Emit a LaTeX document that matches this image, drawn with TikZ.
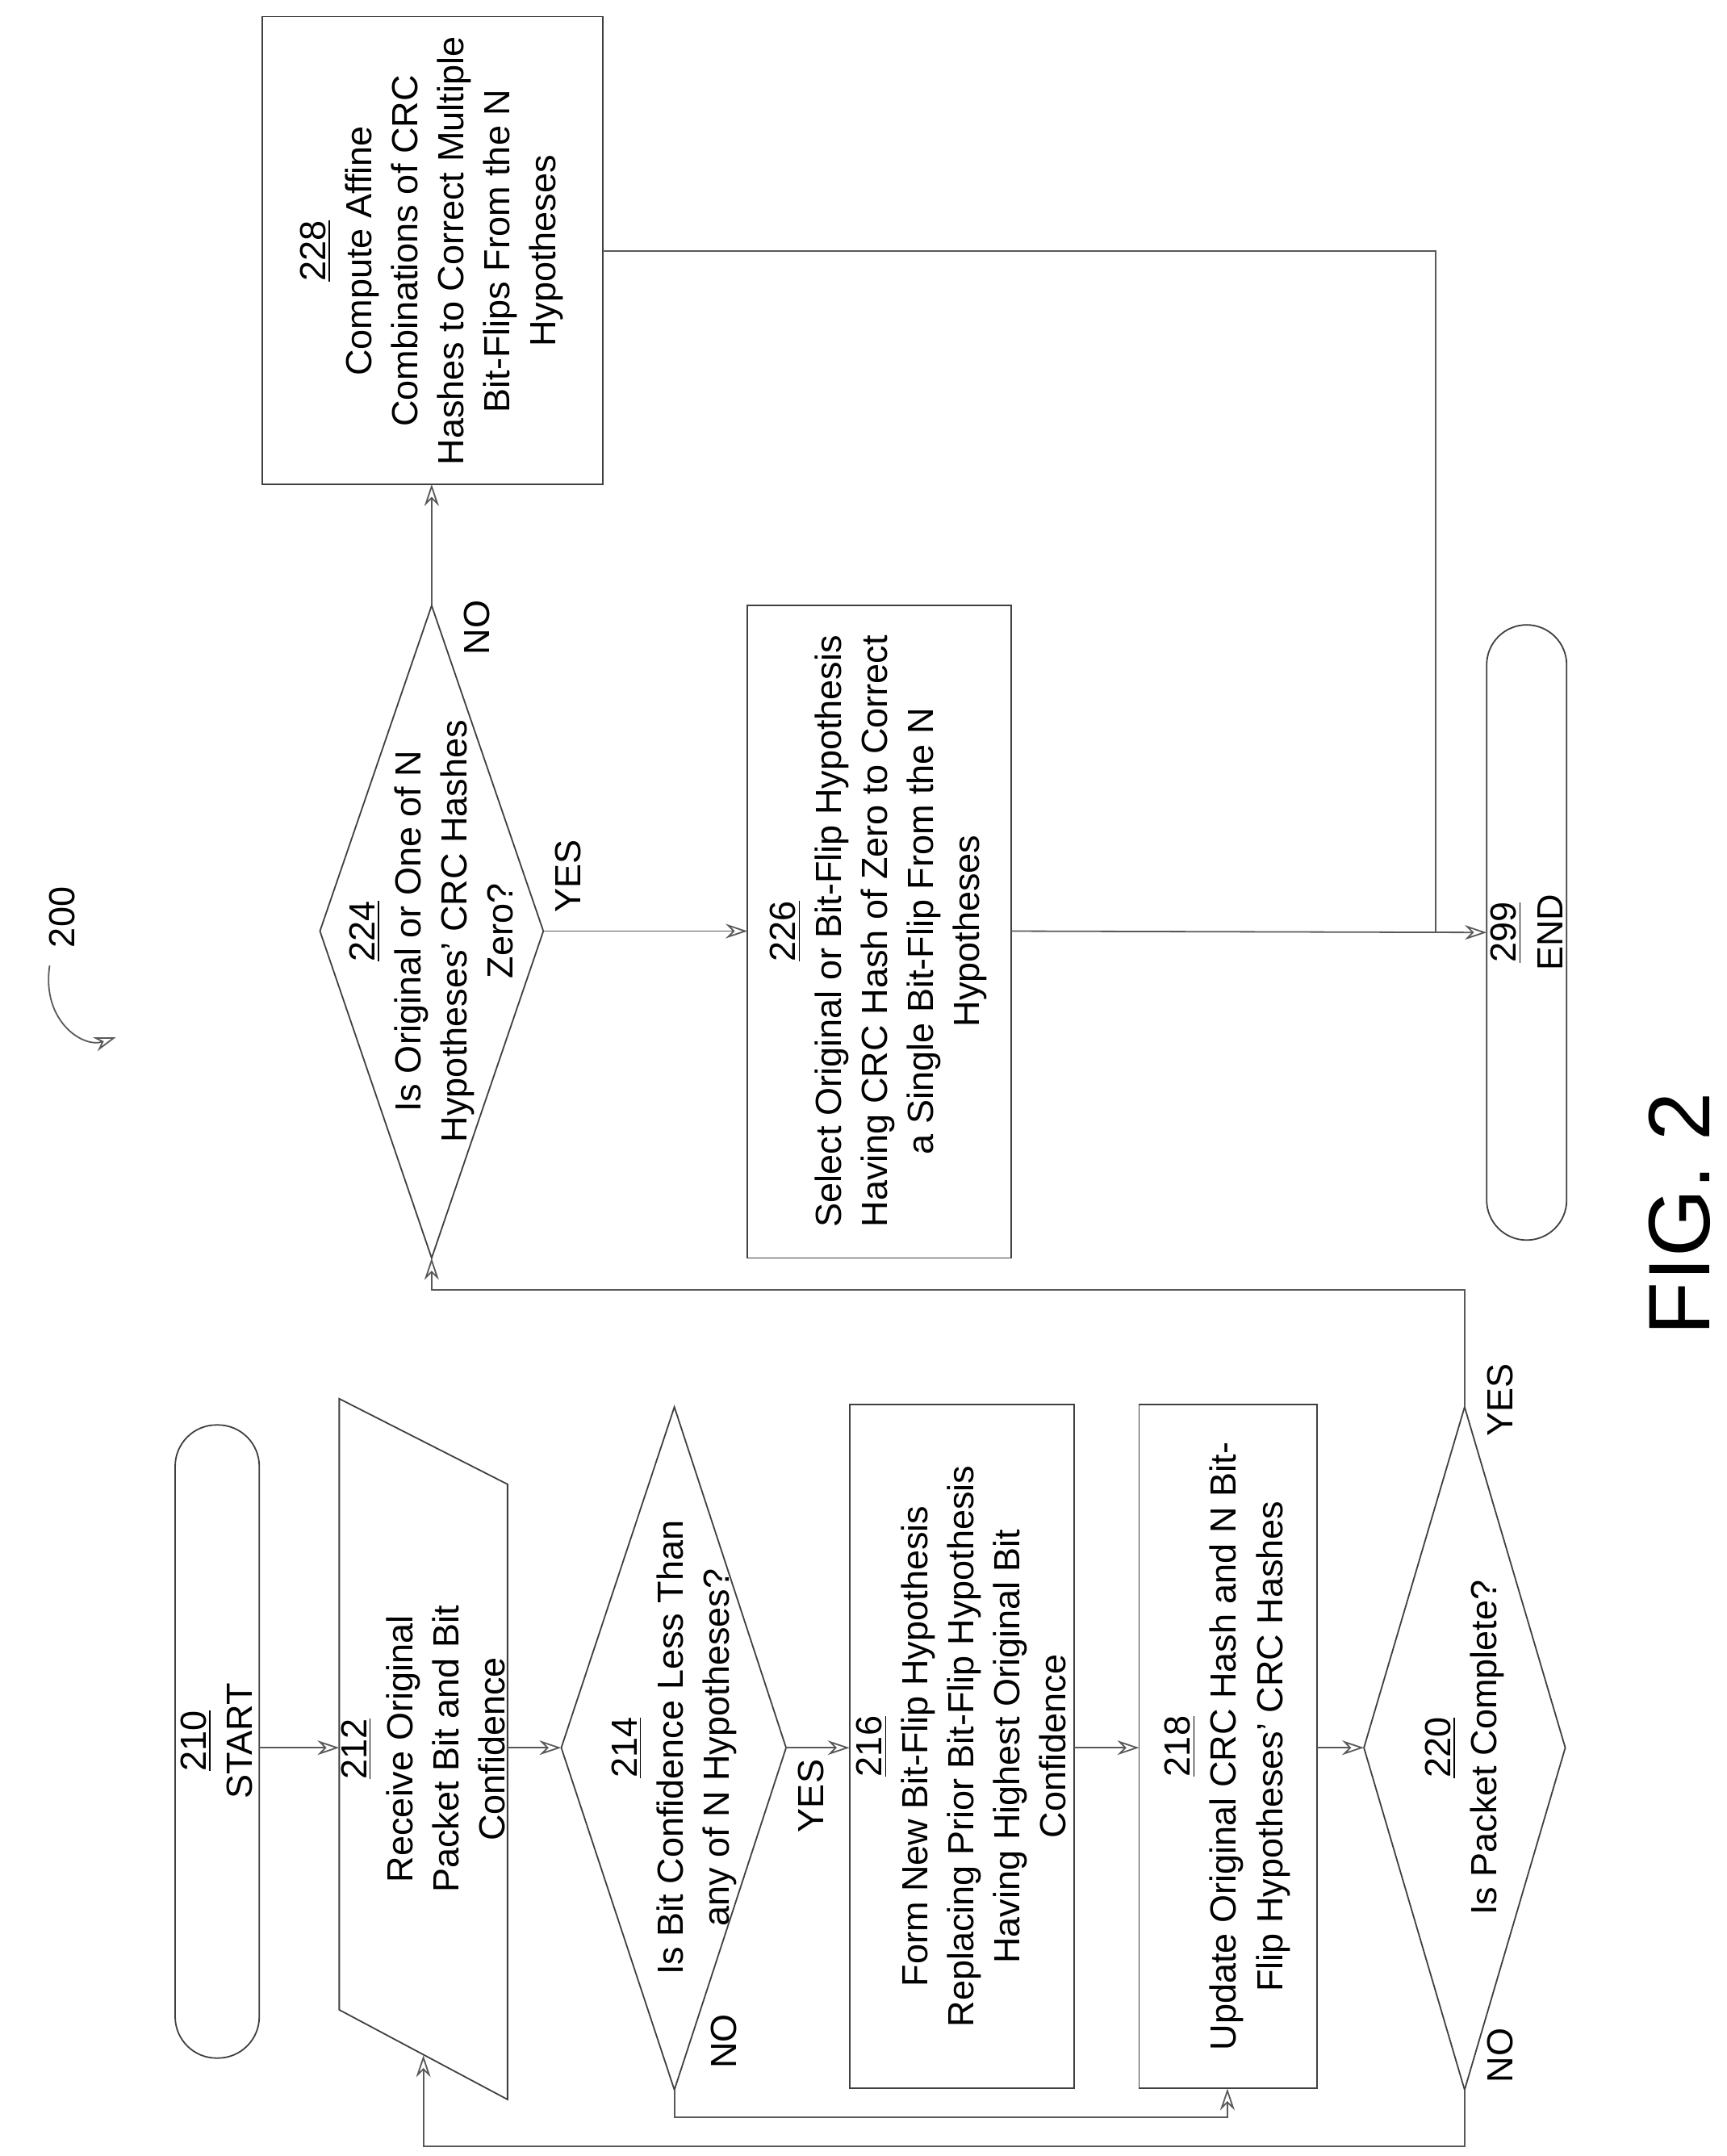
\documentclass[tikz,border=0pt]{standalone}
\usepackage{fontspec}
\setmainfont{Liberation Sans}
\usetikzlibrary{arrows.meta}
\begin{document}
\begin{tikzpicture}[x=0.02cm,y=-0.02cm,
  shp/.style={draw=black!75,line width=0.6pt},
  con/.style={draw=black!65,line width=0.6pt},
  arr/.style={con,-{Stealth[length=9pt,width=6pt,open]}},
  txt/.style={rotate=90,align=center,font=\fontsize{15}{19}\selectfont,inner sep=0pt},
  lbl/.style={rotate=90,font=\fontsize{15}{18}\selectfont,inner sep=0pt}]
\useasboundingbox (0,0) rectangle (1252,1563);
% shapes
\draw[shp,rounded corners=0.6cm] (127,1033) rectangle (188,1492);
\draw[shp] (246,1014) -- (368,1076) -- (368,1522) -- (246,1457) -- cycle;
\draw[shp] (407,1267) -- (489,1020) -- (570,1267) -- (489,1515) -- cycle;
\draw[shp] (616,1018) rectangle (779,1514);
\draw[shp] (826,1018) rectangle (955,1514);
\draw[shp] (989,1267) -- (1062,1020) -- (1135,1267) -- (1062,1515) -- cycle;
\draw[shp] (232,675) -- (313,439) -- (394,675) -- (313,912) -- cycle;
\draw[shp] (542,439) rectangle (733,912);
\draw[shp] (190,12) rectangle (437,351);
\draw[shp,rounded corners=0.58cm] (1078,453) rectangle (1136,899);
% text nodes
\node[txt] (n210) at (157,1262) {\underline{210}\\START};
\node[txt] (n212) at (307,1268) {\underline{212}\\Receive Original\\Packet Bit and Bit\\Confidence};
\node[txt] (n214) at (489,1267) {\underline{214}\\Is Bit Confidence Less Than\\any of N Hypotheses?};
\node[txt] (n216) at (697,1266) {\underline{216}\\Form New Bit-Flip Hypothesis\\Replacing Prior Bit-Flip Hypothesis\\Having Highest Original Bit\\Confidence};
\node[txt] (n218) at (890,1266) {\underline{218}\\Update Original CRC Hash and N Bit-\\Flip Hypotheses’ CRC Hashes};
\node[txt] (n220) at (1062,1267) {\underline{220}\\Is Packet Complete?};
\node[txt] (n224) at (313,675) {\underline{224}\\Is Original or One of N\\Hypotheses’ CRC Hashes\\Zero?};
\node[txt] (n226) at (637,675) {\underline{226}\\Select Original or Bit-Flip Hypothesis\\Having CRC Hash of Zero to Correct\\a Single Bit-Flip From the N\\Hypotheses};
\node[txt] (n228) at (313,182) {\underline{228}\\Compute Affine\\Combinations of CRC\\Hashes to Correct Multiple\\Bit-Flips From the N\\Hypotheses};
\node[txt] (n299) at (1107,676) {\underline{299}\\END};
% anchor coordinates
\coordinate (a210r) at (188,1267);
\coordinate (a212l) at (246,1267);
\coordinate (a212r) at (368,1267);
\coordinate (a212b) at (307,1490);
\coordinate (a214l) at (407,1267);
\coordinate (a214r) at (570,1267);
\coordinate (a214b) at (489,1515);
\coordinate (a216l) at (616,1267);
\coordinate (a216r) at (779,1267);
\coordinate (a218l) at (826,1267);
\coordinate (a218r) at (955,1267);
\coordinate (a218b) at (890,1514);
\coordinate (a220l) at (989,1267);
\coordinate (a220t) at (1062,1020);
\coordinate (a220b) at (1062,1515);
\coordinate (a224t) at (313,439);
\coordinate (a224b) at (313,912);
\coordinate (a224r) at (394,675);
\coordinate (a226l) at (542,675);
\coordinate (a226r) at (733,675);
\coordinate (a228b) at (313,351);
\coordinate (a228r) at (437,182);
\coordinate (a299l) at (1078,676);
\coordinate (j1) at (1041,676);
% connectors
\draw[arr] (a210r) -- (a212l);
\draw[arr] (a212r) -- (a214l);
\draw[arr] (a214r) -- (a216l);
\draw[arr] (a216r) -- (a218l);
\draw[arr] (a218r) -- (a220l);
\draw[arr] (a214b) -- (489,1535) -| (a218b);
\draw[arr] (a220b) -- (1062,1556) -| (a212b);
\draw[arr] (a220t) -- (1062,935) -| (a224b);
\draw[arr] (a224r) -- (a226l);
\draw[arr] (a224t) -- (a228b);
\draw[arr] (a226r) -- (a299l);
\draw[con] (a228r) -| (j1);
% labels
\node[lbl] (y214) at (588,1302) {YES};
\node[lbl] (no214) at (525,1480) {NO};
\node[lbl] (y220) at (1088,1015) {YES};
\node[lbl] (no220) at (1088,1490) {NO};
\node[lbl] (y224) at (412,635) {YES};
\node[lbl] (no224) at (346,455) {NO};
\node[lbl] (l200) at (45,665) {200};
\coordinate (c1) at (36,700);
\coordinate (c2) at (84,752);
\draw[con,-{Stealth[length=9pt,width=6pt,open]}] (c1) .. controls (30,740) and (60,760) .. (c2);
\node[rotate=90,font=\fontsize{36}{36}\selectfont,inner sep=0pt] (fig) at (1218,880) {FIG. 2};
\end{tikzpicture}
\end{document}
